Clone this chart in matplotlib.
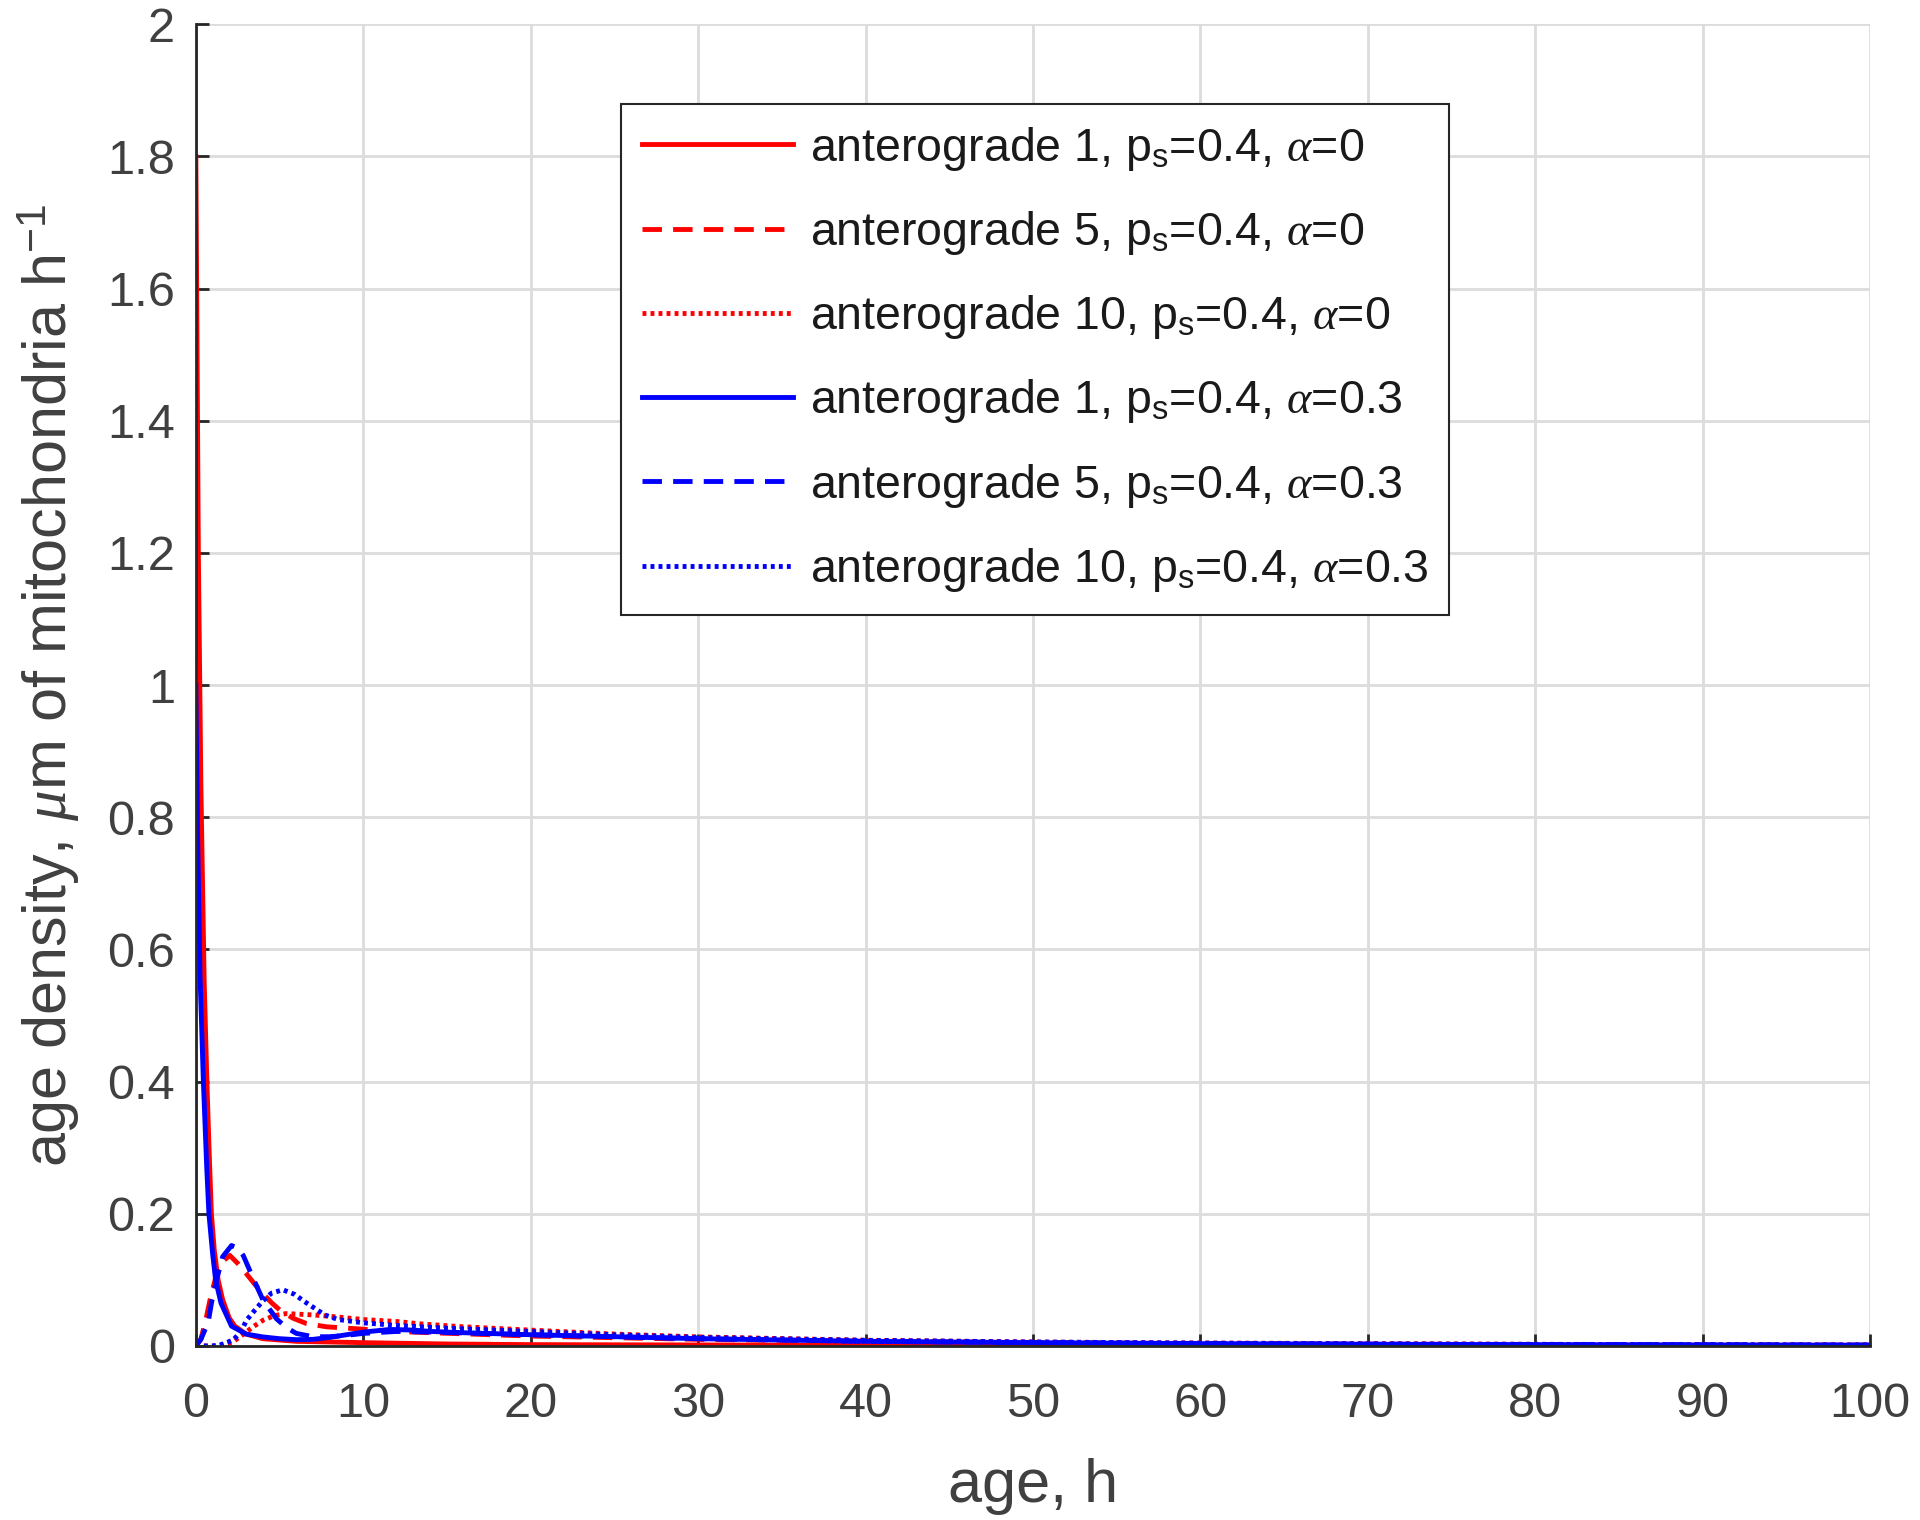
import matplotlib
matplotlib.use("Agg")
import matplotlib.pyplot as plt
from matplotlib import font_manager

# Values (age in h, density)
red_solid_x = [0, 0.05, 0.15, 0.3, 0.5, 0.66, 0.8, 0.93, 1.1, 1.33, 1.6, 2.0, 2.33, 3.0, 4.0, 6.0, 10, 15, 20, 40, 100]
red_solid_y = [1.8, 1.6, 1.2, 0.85, 0.55, 0.40, 0.29, 0.20, 0.145, 0.10, 0.07, 0.042, 0.03, 0.018, 0.011, 0.007, 0.005, 0.003, 0.002, 0.001, 0.0005]

red_dash_x = [0, 0.3, 0.6, 0.84, 1.2, 1.6, 2.03, 2.5, 3.03, 3.5, 4.02, 4.5, 5.03, 5.8, 6.6, 7.8, 9.6, 12, 14, 20, 30, 40, 50, 60, 80, 100]
red_dash_y = [0, 0.01, 0.04, 0.069, 0.105, 0.128, 0.137, 0.125, 0.109, 0.094, 0.079, 0.066, 0.054, 0.042, 0.034, 0.029, 0.026, 0.022, 0.02, 0.015, 0.01, 0.007, 0.005, 0.0035, 0.002, 0.0012]

red_dot_x = [0, 1.2, 1.7, 2.2, 2.8, 3.42, 4.02, 4.7, 5.4, 7.0, 8.4, 10, 12, 13.6, 16, 20, 25, 30, 40, 50, 60, 70, 80, 100]
red_dot_y = [0, 0, 0.002, 0.006, 0.017, 0.029, 0.039, 0.046, 0.049, 0.047, 0.044, 0.04, 0.037, 0.033, 0.029, 0.024, 0.018, 0.0137, 0.0086, 0.006, 0.0045, 0.0035, 0.0025, 0.0015]

blue_solid_x = [0, 0.1, 0.25, 0.45, 0.65, 0.78, 1.0, 1.18, 1.5, 2.13, 3.0, 4.0, 5.0, 6.0, 7.0, 8.0, 9.0, 10, 11.6, 13, 14, 16, 20, 25, 30, 40, 50, 60, 70, 80, 100]
blue_solid_y = [1.0, 0.78, 0.56, 0.40, 0.27, 0.20, 0.14, 0.10, 0.065, 0.03, 0.018, 0.0137, 0.011, 0.0095, 0.010, 0.013, 0.017, 0.021, 0.025, 0.024, 0.022, 0.02, 0.017, 0.014, 0.011, 0.007, 0.005, 0.0035, 0.0025, 0.002, 0.0012]

blue_dash_x = [0, 0.3, 0.74, 0.94, 1.23, 1.6, 2.13, 2.5, 2.83, 3.43, 4.02, 4.82, 5.4, 6.0, 7.0, 8.0, 9.0, 10, 12, 14, 20, 30, 40, 50, 60, 80, 100]
blue_dash_y = [0, 0.01, 0.036, 0.066, 0.099, 0.135, 0.152, 0.148, 0.137, 0.102, 0.069, 0.041, 0.028, 0.019, 0.014, 0.014, 0.016, 0.019, 0.022, 0.021, 0.017, 0.011, 0.007, 0.005, 0.0035, 0.002, 0.0012]

blue_dot_x = [0, 1.0, 1.5, 2.23, 2.7, 3.03, 3.52, 4.0, 4.52, 5.2, 5.9, 6.5, 7.1, 7.7, 8.5, 10, 12, 15, 20, 25, 30, 40, 50, 60, 70, 80, 100]
blue_dot_y = [0, 0, 0.002, 0.009, 0.022, 0.039, 0.054, 0.068, 0.080, 0.085, 0.078, 0.067, 0.057, 0.047, 0.040, 0.035, 0.031, 0.027, 0.022, 0.017, 0.013, 0.0085, 0.006, 0.0042, 0.0032, 0.0024, 0.0014]

labels = [
    r"anterograde 1, p$_{\mathrm{s}}$=0.4, $\alpha$=0",
    r"anterograde 5, p$_{\mathrm{s}}$=0.4, $\alpha$=0",
    r"anterograde 10, p$_{\mathrm{s}}$=0.4, $\alpha$=0",
    r"anterograde 1, p$_{\mathrm{s}}$=0.4, $\alpha$=0.3",
    r"anterograde 5, p$_{\mathrm{s}}$=0.4, $\alpha$=0.3",
    r"anterograde 10, p$_{\mathrm{s}}$=0.4, $\alpha$=0.3",
]

x_ticks = [0, 10, 20, 30, 40, 50, 60, 70, 80, 90, 100]
y_ticks = [0, 0.2, 0.4, 0.6, 0.8, 1.0, 1.2, 1.4, 1.6, 1.8, 2.0]
y_tick_labels = ["0", "0.2", "0.4", "0.6", "0.8", "1", "1.2", "1.4", "1.6", "1.8", "2"]

# narrow sans looks closer to the MATLAB Helvetica, use it if it is there
names = {f.name for f in font_manager.fontManager.ttflist}
if "Liberation Sans Narrow" in names:
    main_font = "Liberation Sans Narrow"
    tick_fs, leg_fs, lab_fs = 40, 36, 46
else:
    main_font = "Liberation Sans"
    tick_fs, leg_fs, lab_fs = 35, 33.5, 44

plt.rcParams["font.family"] = [main_font, "DejaVu Sans"]
plt.rcParams["mathtext.fontset"] = "custom"
plt.rcParams["mathtext.rm"] = main_font
plt.rcParams["mathtext.it"] = "Liberation Serif:italic"

fig = plt.figure(figsize=(19.2, 15.2), dpi=100)
ax = fig.add_axes([0.102, 0.1145, 0.872, 0.8695])

lw = 3.5
dash = (0, (4.0, 2.3))
dot = (0, (0.8, 0.85))
ax.plot(red_solid_x, red_solid_y, color="#ff0000", lw=lw, ls="-", label=labels[0])
ax.plot(red_dash_x, red_dash_y, color="#ff0000", lw=lw, ls=dash, label=labels[1])
ax.plot(red_dot_x, red_dot_y, color="#ff0000", lw=lw, ls=dot, label=labels[2])
ax.plot(blue_solid_x, blue_solid_y, color="#0000ff", lw=lw, ls="-", label=labels[3])
ax.plot(blue_dash_x, blue_dash_y, color="#0000ff", lw=lw, ls=dash, label=labels[4])
ax.plot(blue_dot_x, blue_dot_y, color="#0000ff", lw=lw, ls=dot, label=labels[5])

ax.set_xlim(0, 100)
ax.set_ylim(0, 2)
ax.set_xticks(x_ticks)
ax.set_yticks(y_ticks)
ax.set_yticklabels(y_tick_labels)
ax.grid(True, color="#dcdcdc", lw=2)
ax.set_axisbelow(True)
for side in ["top", "right"]:
    ax.spines[side].set_visible(False)
for side in ["left", "bottom"]:
    ax.spines[side].set_linewidth(2)
    ax.spines[side].set_color("#262626")
ax.tick_params(direction="in", length=9, width=2, color="#262626",
               labelsize=tick_fs, labelcolor="#404040", pad=15)
ax.tick_params(axis="x", pad=26)

ax.set_xlabel("age, h", fontsize=lab_fs, color="#404040", labelpad=22)
ax.set_ylabel(r"age density, $\mu$m of mitochondria h$^{\mathrm{-1}}$",
              fontsize=lab_fs, color="#404040", labelpad=19)

leg = ax.legend(loc="upper left", bbox_to_anchor=(0.254, 0.940), fontsize=leg_fs,
                frameon=True, fancybox=False, edgecolor="#262626", framealpha=1,
                handlelength=3.25, handletextpad=0.35, borderpad=0.45,
                labelspacing=0.78, borderaxespad=0)
leg.get_frame().set_linewidth(1.5)
for t in leg.get_texts():
    t.set_color("#1a1a1a")

fig.savefig("out.png", dpi=100)
